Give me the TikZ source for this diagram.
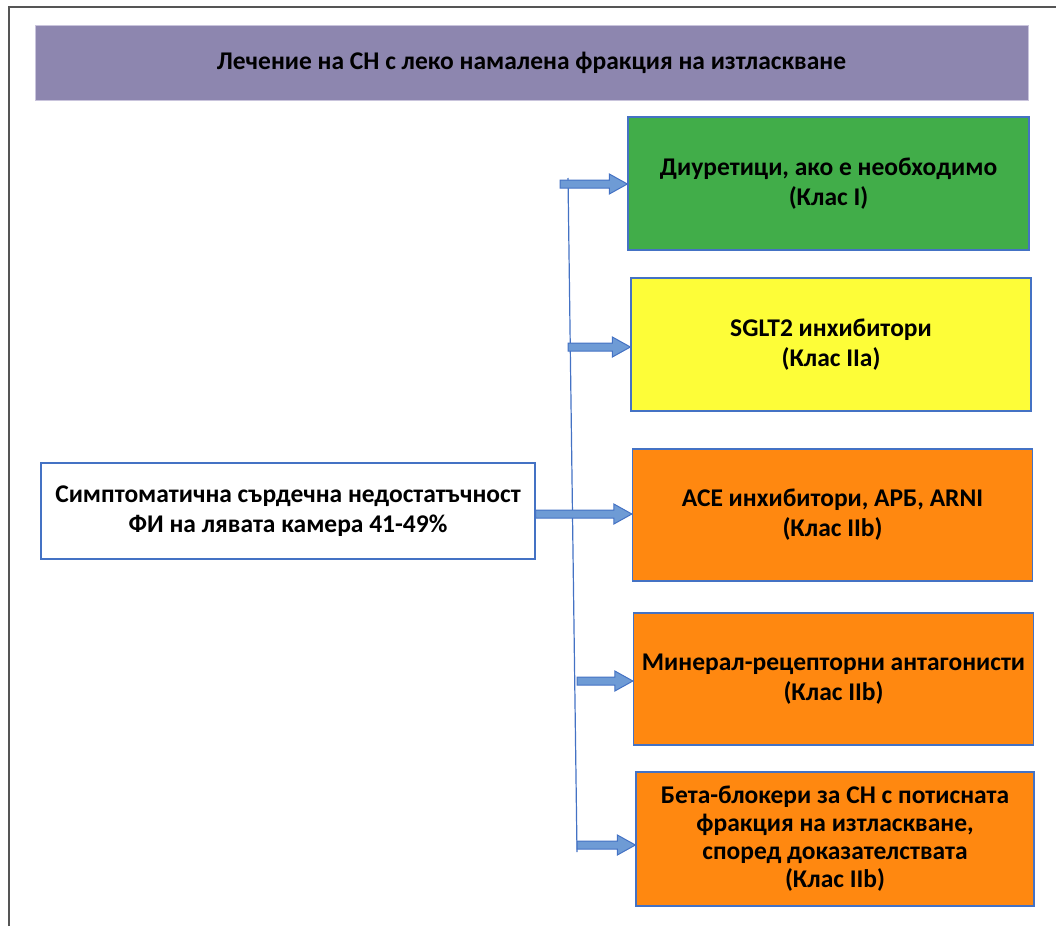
\documentclass[tikz,border=0pt]{standalone}
\usepackage{fontspec}
\setmainfont{Carlito}
\usetikzlibrary{calc}
\definecolor{titlebg}{HTML}{8D86AF}
\definecolor{titlebd}{HTML}{C9C4DC}
\definecolor{boxbd}{HTML}{4472C4}
\definecolor{greenbg}{HTML}{41AD49}
\definecolor{yellowbg}{HTML}{FDFD38}
\definecolor{orangebg}{HTML}{FF8810}
\definecolor{arrowbg}{HTML}{6E9BD5}
\definecolor{framec}{HTML}{555555}
\tikzset{
  every node/.style={font=\fontsize{25.5}{30}\selectfont\bfseries, align=center, inner sep=0pt},
  treatbox/.style={draw=boxbd, line width=1.3pt, minimum width=400pt, minimum height=133pt},
  arrowst/.style={draw=boxbd, fill=arrowbg, line width=1pt, line join=miter},
}
\newcommand\blockarrow[2]{%
  \path[arrowst] let \p1=(#1), \p2=(#2) in
    (\x1,\y1+4) -- (\x2-18,\y1+4) -- (\x2-18,\y1+10) -- (\x2,\y1)
    -- (\x2-18,\y1-10) -- (\x2-18,\y1-4) -- (\x1,\y1-4) -- cycle;}
\begin{document}
\begin{tikzpicture}[x=1pt,y=-1pt]
\useasboundingbox (0,0) rectangle (1056,926);
% frame
\draw[framec, line width=1.8pt] (9,926) -- (9,7) -- (1056,7);
% title
\node[fill=titlebg, draw=titlebd, line width=0.8pt, minimum width=993pt, minimum height=75pt] (title) at (531.5,62.5) {Лечение на СН с леко намалена фракция на изтласкване};
% left box
\node[draw=boxbd, line width=1.3pt, fill=white, minimum width=494pt, minimum height=96pt] (sym) at (288,511) {Симптоматична сърдечна недостатъчност\\ФИ на лявата камера 41-49\%};
% treatment boxes
\node[treatbox, fill=greenbg, minimum width=401pt] (b1) at (828.5,183.5) {Диуретици, ако е необходимо\\(Клас I)};
\node[treatbox, fill=yellowbg] (b2) at (831,344.5) {SGLT2 инхибитори\\(Клас IIa)};
\node[treatbox, fill=orangebg, minimum height=132pt] (b3) at (832.5,515) {ACE инхибитори, АРБ, ARNI\\(Клас IIb)};
\node[treatbox, fill=orangebg, minimum height=132pt] (b4) at (833.5,679) {Минерал-рецепторни антагонисти\\(Клас IIb)};
\node[treatbox, fill=orangebg, minimum width=398pt, minimum height=134pt, font=\fontsize{25.5}{28}\selectfont\bfseries] (b5) at (835,839) {Бета-блокери за СН с потисната\\фракция на изтласкване,\\според доказателствата\\(Клас IIb)};
% vertical connector
\coordinate (vtop) at (568,178);
\coordinate (vbot) at (577,852);
\draw[boxbd, line width=1.2pt] (vtop) -- (vbot);
% arrow start points
\coordinate (a1) at (560,184);
\coordinate (a2) at (568,347);
\coordinate (a4) at (577,681);
\coordinate (a5) at (577,845);
\blockarrow{a1}{b1.west |- a1}
\blockarrow{a2}{b2.west |- a2}
\blockarrow{sym.east |- 0,514}{b3.west |- 0,514}
\blockarrow{a4}{b4.west |- a4}
\blockarrow{a5}{b5.west |- a5}
\end{tikzpicture}
\end{document}
